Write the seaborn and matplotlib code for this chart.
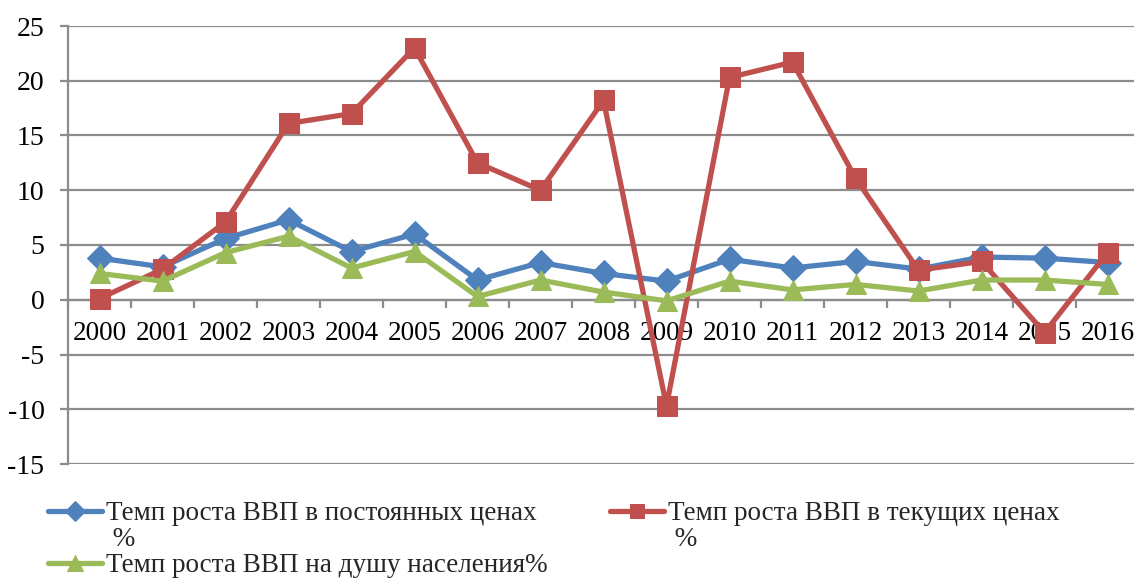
import numpy as np
import pandas as pd
import matplotlib
matplotlib.use("Agg")
import matplotlib.pyplot as plt
from matplotlib.lines import Line2D
import seaborn as sns

years = list(range(2000, 2017))
const_prices = [3.8, 3.0, 5.6, 7.3, 4.4, 6.0, 1.8, 3.4, 2.4, 1.7, 3.7, 2.9, 3.5, 2.8, 3.9, 3.8, 3.4]
current_prices = [0.1, 2.8, 7.1, 16.1, 17.0, 23.0, 12.5, 10.0, 18.2, -9.7, 20.3, 21.7, 11.1, 2.7, 3.5, -3.0, 4.3]
per_capita = [2.4, 1.7, 4.3, 5.8, 2.9, 4.4, 0.3, 1.8, 0.7, -0.1, 1.7, 0.9, 1.4, 0.8, 1.8, 1.8, 1.4]

names = ["Темп роста ВВП в постоянных ценах",
         "Темп роста ВВП в текущих ценах",
         "Темп роста ВВП на душу населения%"]
wrap_tail = " %"
colors = ["#4F81BD", "#C0504D", "#9BBB59"]
markers = ["D", "s", "^"]
msizes = [13, 14, 15]

sns.set_theme(style="white")
plt.rcParams['font.family'] = ['Liberation Serif', 'DejaVu Serif']
plt.rcParams['axes.unicode_minus'] = False

fig = plt.figure(figsize=(11.34, 5.83), dpi=100)
ax = fig.add_axes([68/1134, 1-464/583, 1071/1134, (464-26)/583])

for vals, name, c, m, ms in zip([const_prices, current_prices, per_capita], names, colors, markers, msizes):
    df = pd.DataFrame({"year": years, "value": vals})
    sns.lineplot(data=df, x="year", y="value", ax=ax, color=c, linewidth=3.8,
                 marker=m, markersize=ms, markeredgecolor=c, markerfacecolor=c,
                 label=name, legend=False, zorder=3)

ax.set_xlim(1999.5, 2016.5)
ax.set_ylim(-15, 25)
ax.set_yticks(np.arange(-15, 26, 5))
ax.set_xticks(years)
ax.set_xticklabels([str(y) for y in years])
ax.set_xticks(np.arange(1999.5, 2017, 1), minor=True)
ax.set_xlabel("")
ax.set_ylabel("")

grid_c = "#8C8C8C"
ax.yaxis.grid(True, color=grid_c, linewidth=1.6, zorder=0)
ax.xaxis.grid(False)
for s in ["top", "right"]:
    ax.spines[s].set_visible(False)
ax.spines["left"].set_color(grid_c)
ax.spines["left"].set_linewidth(1.6)
ax.spines["bottom"].set_position(("data", 0))
ax.spines["bottom"].set_color(grid_c)
ax.spines["bottom"].set_linewidth(1.6)

ax.tick_params(axis="y", which="major", left=True, length=6, width=1.6, color=grid_c,
               pad=11, labelsize=20, labelcolor="black")
ax.tick_params(axis="x", which="major", bottom=True, length=0, pad=15, labelsize=19.5,
               labelcolor="black")
ax.tick_params(axis="x", which="minor", bottom=True, length=6, width=1.6, color=grid_c)

h, l = ax.get_legend_handles_labels()
blank = Line2D([], [], linestyle="none", marker=None)
leg_handles = [h[0], blank, h[2], h[1], blank]
leg_labels = [l[0], wrap_tail, l[2], l[1], wrap_tail]
leg = fig.legend(leg_handles, leg_labels, ncol=2,
                 loc="upper left", bbox_to_anchor=(48/1134, 1-501/583),
                 frameon=False, fontsize=19.5, handlelength=2.0, handletextpad=0.15,
                 columnspacing=2.3, labelspacing=0.04, borderaxespad=0, borderpad=0,
                 markerscale=0.75)

fig.savefig("out.png", dpi=100)
